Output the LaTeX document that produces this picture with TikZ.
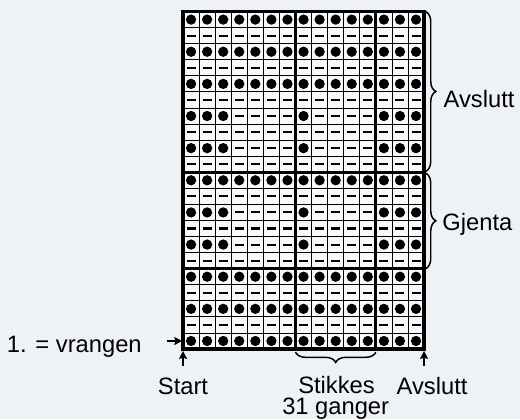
\documentclass[tikz,border=0pt]{standalone}
\usepackage{fontspec}
\setmainfont{Liberation Sans}
\usetikzlibrary{arrows.meta, positioning, decorations.pathreplacing, calc}
\definecolor{cbg}{HTML}{EEF2F6}
\definecolor{ccell}{HTML}{F8F9FB}
\tikzset{
  every picture/.style={font=\fontsize{21}{25}\selectfont, line width=0.7pt, x=0.5cm, y=0.5cm},
  note/.style={inner sep=0pt},
  thinrule/.style={draw=black, line width=0.75pt},
  thickrule/.style={draw=black, line width=2.8pt, line cap=rect},
  dash stitch/.style={line width=1.8pt},
  dot stitch/.style={fill=black},
  pointer/.style={-{Stealth[length=7pt, width=7pt, inset=1pt]}, line width=1.8pt},
  bracket/.style={decorate, decoration={brace, amplitude=9pt}, line width=1.3pt},
}

\begin{document}
\begin{tikzpicture}
  \path[use as bounding box, fill=cbg] (-11.39,-4.36) rectangle (20.97,21.72);
  % chart
  \fill[ccell] (0,0) rectangle (15,21);
  \foreach \c in {1,...,14}
    \draw[thinrule] (\c,0) -- (\c,21);
  \foreach \r in {1,...,20}
    \draw[thinrule] (0,\r) -- (15,\r);
  \foreach \r in {2,4,...,20}
    \foreach \c in {1,...,15}
      \draw[dash stitch] (\c-0.78,\r-0.5) -- (\c-0.22,\r-0.5);
  \foreach \r in {1,3,5,11,17,19,21}
    \foreach \c in {1,...,15}
      \fill[dot stitch] (\c-0.5,\r-0.5) circle (0.32);
  \foreach \r in {7,9,13,15} {
    \foreach \c in {1,2,3,8,13,14,15}
      \fill[dot stitch] (\c-0.5,\r-0.5) circle (0.32);
    \foreach \c in {4,5,6,7,9,10,11,12}
      \draw[dash stitch] (\c-0.78,\r-0.5) -- (\c-0.22,\r-0.5);
  }
  \draw[thickrule] (7,0) -- (7,21) (12,0) -- (12,21) (0,5) -- (15,5) (0,11) -- (15,11);
  \draw[thickrule] (0,0) rectangle (15,21);
  % repeat marks
  \draw[bracket] (15.1,21) -- (15.1,11.05);
  \draw[bracket] (15.1,10.95) -- (15.1,5);
  \draw[bracket] (12,-0.2) -- (7,-0.2);
  \node[note, anchor=base west] (avsl) at (16.2,15.0) {Avslutt};
  \node[note, anchor=base west] (gjenta) at (16.12,7.4) {Gjenta};
  % start and end
  \node[note, anchor=base east] (vrang) at (-2.55,-0.19) {1. = vrangen};
  \coordinate (vtail) at (-1.0,0.5);
  \coordinate (firstrow) at (-0.05,0.5);
  \draw[pointer] (vtail) -- (firstrow);
  \node[note, anchor=base] (start) at (0,-2.8) {Start};
  \coordinate (starttail) at (0,-1.05);
  \coordinate (starttip) at (0,-0.12);
  \draw[pointer] (starttail) -- (starttip);
  \node[note, anchor=base] (slutt) at (15.5,-2.8) {Avslutt};
  \coordinate (slutttail) at (15,-1.05);
  \coordinate (slutttip) at (15,-0.12);
  \draw[pointer] (slutttail) -- (slutttip);
  \node[note, anchor=base] (stikkes) at (9.55,-2.74) {Stikkes};
  \node[note, anchor=base] (ganger) at (9.5,-4.1) {31 ganger};
\end{tikzpicture}
\end{document}
